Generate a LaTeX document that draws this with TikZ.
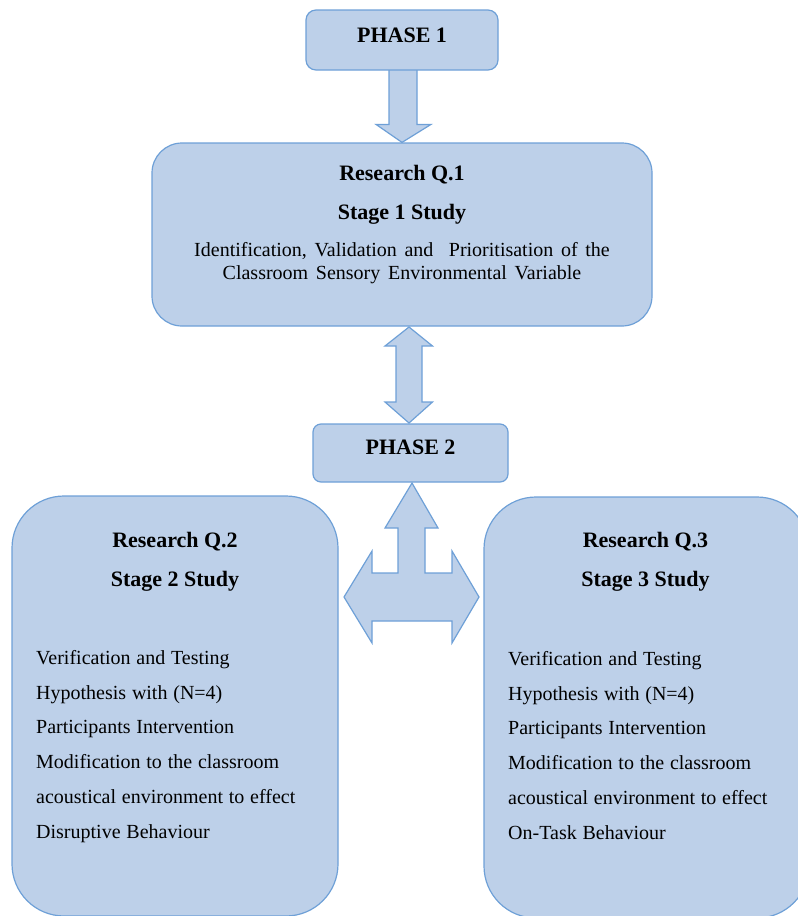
\documentclass[tikz,border=0pt]{standalone}
\usepackage{fontspec}
\setmainfont{Liberation Serif}
\usetikzlibrary{calc,backgrounds}
\definecolor{boxfill}{RGB}{189,208,233}
\definecolor{boxline}{RGB}{110,160,215}
\newcommand{\descfont}{\fontsize{20}{23.5}\selectfont\spaceskip=7.7pt plus 1pt minus 0pt\relax}
\newcommand{\bodyfont}{\fontsize{20}{34.8}\selectfont\spaceskip=5.8pt plus 1pt minus 0pt\relax}
\tikzset{
  box/.style={draw=boxline,fill=boxfill,line width=1.2pt,inner sep=0pt},
  blockarrow/.style={draw=boxline,fill=boxfill,line width=1.2pt,line join=miter},
  title/.style={font=\fontsize{22}{26}\selectfont\bfseries,inner sep=0pt,anchor=base},
  body/.style={font=\bodyfont,inner sep=0pt,align=left,anchor=north west},
}
\begin{document}
\begin{tikzpicture}[x=1pt,y=-1pt]
\useasboundingbox (0,0) rectangle (798,916);
\clip (0,0) rectangle (798,916);
% boxes
\node[box,rounded corners=10pt,minimum width=192pt,minimum height=60pt] (p1) at (402,40) {};
\node[box,rounded corners=30pt,minimum width=500pt,minimum height=183pt] (q1) at (402,234.5) {};
\node[box,rounded corners=8pt,minimum width=195pt,minimum height=58pt] (p2) at (410.5,453) {};
\node[box,rounded corners=52pt,minimum width=326pt,minimum height=420pt] (q2) at (175,706) {};
\node[box,rounded corners=52pt,minimum width=325pt,minimum height=421pt] (q3) at (646.5,707.5) {};
% block-arrow tips
\coordinate (d1) at (409,327);
\coordinate (d2) at (409,423);
\coordinate (tu) at (412,483);
\coordinate (tl) at (344,597);
\coordinate (tr) at (479,597);
% block arrows behind the boxes
\begin{pgfonlayer}{background}
\draw[blockarrow] ($(p1.south)+(-13,-2)$) -- ($(q1.north)+(-13,-18)$) -- ($(q1.north)+(-26,-18)$) -- (q1.north) -- ($(q1.north)+(29,-18)$) -- ($(q1.north)+(15,-18)$) -- ($(p1.south)+(15,-2)$) -- cycle;
\draw[blockarrow] (d1) -- ($(d1)+(23.5,19)$) -- ($(d1)+(13,19)$) -- ($(d2)+(13,-21)$) -- ($(d2)+(23.5,-21)$) -- (d2) -- ($(d2)+(-24,-21)$) -- ($(d2)+(-13,-21)$) -- ($(d1)+(-13,19)$) -- ($(d1)+(-24,19)$) -- cycle;
\draw[blockarrow] (tu) -- (438,528) -- (425,528) -- (425,573) -- (452,573) -- (452,551) -- (tr) -- (452,643) -- (452,621) -- (372,621) -- (372,643) -- (tl) -- (372,551) -- (372,573) -- (398,573) -- (398,528) -- (385,528) -- cycle;
\end{pgfonlayer}
% texts
\node[title] (t1) at (402,42) {PHASE 1};
\node[title] (t2) at (402,180.5) {Research Q.1};
\node[title] (t3) at (402,219.5) {Stage 1 Study};
\node[font=\descfont,inner sep=0pt,align=center,anchor=north] (t4) at (402,242) {Identification, Validation and~ Prioritisation of the\\Classroom Sensory Environmental Variable};
\node[title] (t5) at (410.5,454) {PHASE 2};
\node[title] (t6) at (175,547) {Research Q.2};
\node[title] (t7) at (175,586) {Stage 2 Study};
\node[body] (t8) at (36,650) {Verification and Testing\\Hypothesis with (N=4)\\Participants Intervention\\Modification to the classroom\\acoustical environment to effect\\Disruptive Behaviour};
\node[title] (t9) at (645.5,547) {Research Q.3};
\node[title] (t10) at (645.5,586) {Stage 3 Study};
\node[body] (t11) at (508,651) {Verification and Testing\\Hypothesis with (N=4)\\Participants Intervention\\Modification to the classroom\\acoustical environment to effect\\On-Task Behaviour};
\end{tikzpicture}
\end{document}
